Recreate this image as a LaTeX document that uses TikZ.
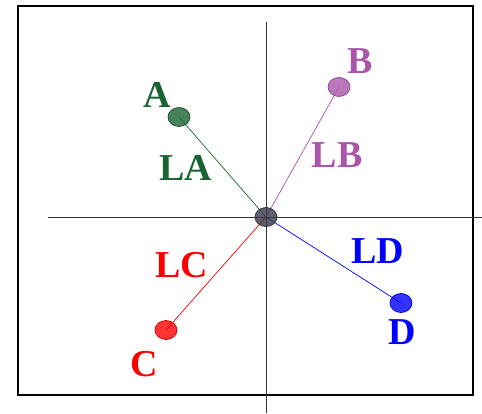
\documentclass[tikz,border=0pt]{standalone}
\usetikzlibrary{shapes.geometric}
\usepackage{fontspec}
\setmainfont{Liberation Serif}
\definecolor{cA}{RGB}{25,100,50}
\definecolor{cB}{RGB}{170,85,170}
\definecolor{cC}{RGB}{255,0,0}
\definecolor{cD}{RGB}{0,0,255}
\definecolor{cO}{RGB}{55,58,70}
\begin{document}
\begin{tikzpicture}[x=1pt,y=-1pt,
  lbl/.style={font=\fontsize{38}{42}\selectfont\bfseries, inner sep=0pt},
  dot/.style={ellipse, minimum width=22pt, minimum height=19pt, inner sep=0pt, draw=#1!80!black, fill=#1, fill opacity=0.8, line width=0.7pt},
  axis/.style={draw=black!80, line width=0.7pt},
  seg/.style={draw=#1, line width=0.7pt}]
\useasboundingbox (0,0) rectangle (482,413);
\draw[line width=1.6pt] (18,6) rectangle (473,395);
\coordinate (xl) at (48,217);
\coordinate (xr) at (482,217);
\coordinate (yt) at (266,22);
\coordinate (yb) at (266,413);
\draw[axis] (xl) -- (xr);
\draw[axis] (yt) -- (yb);
\coordinate (o) at (266,217);
\coordinate (pa) at (179,117);
\coordinate (pb) at (339,87);
\coordinate (pc) at (166,330);
\coordinate (pd) at (401,303);
\draw[seg=cA] (o) -- (pa);
\draw[seg=cB] (o) -- (pb);
\draw[seg=cC] (o) -- (pc);
\draw[seg=cD] (o) -- (pd);
\node[dot=cA] (A) at (pa) {};
\node[dot=cB] (B) at (pb) {};
\node[dot=cC] (C) at (pc) {};
\node[dot=cD] (D) at (pd) {};
\node[dot=cO] (O) at (o) {};
\node[lbl, text=cA] (tA) at (157,95) {A};
\node[lbl, text=cB] (tB) at (360,61) {B};
\node[lbl, text=cC] (tC) at (144,364) {C};
\node[lbl, text=cD] (tD) at (402,332) {D};
\node[lbl, text=cA] (tLA) at (186,168) {LA};
\node[lbl, text=cB] (tLB) at (337,155) {LB};
\node[lbl, text=cC] (tLC) at (182,265) {LC};
\node[lbl, text=cD] (tLD) at (378,251) {LD};
\end{tikzpicture}
\end{document}
